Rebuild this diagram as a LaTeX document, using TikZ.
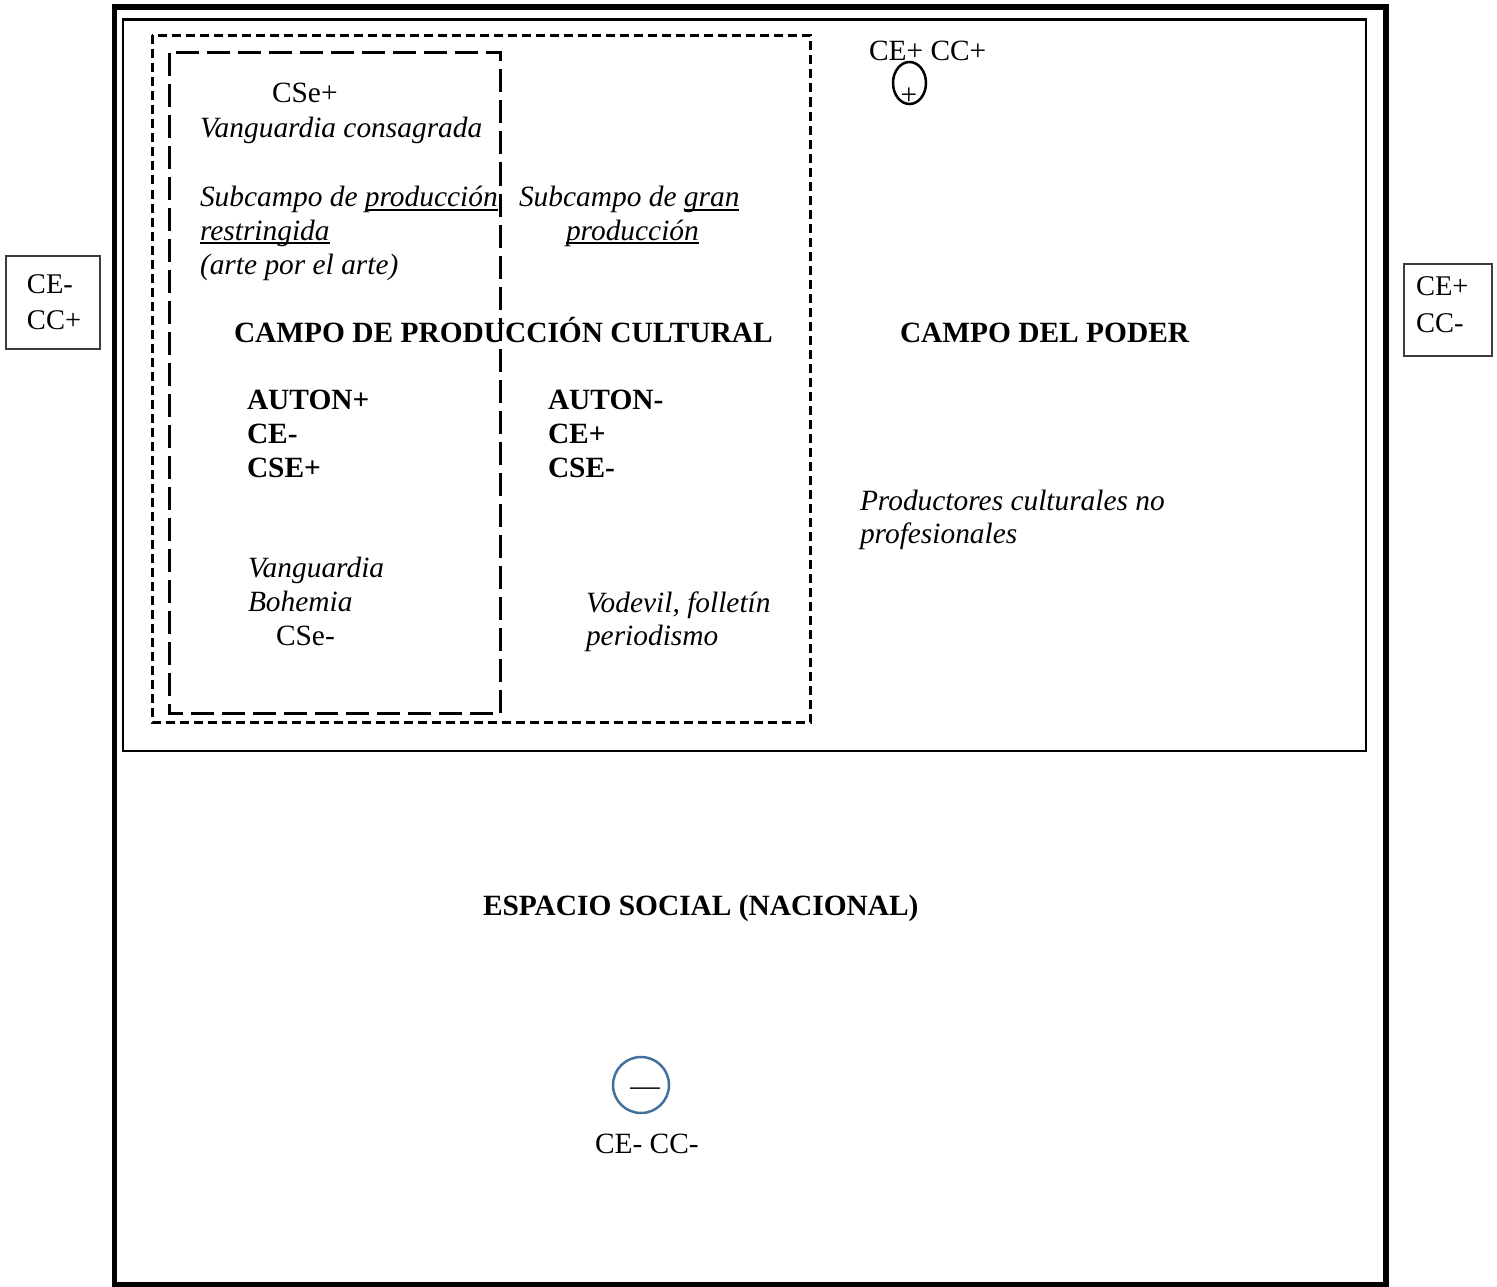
\documentclass[tikz,border=0pt]{standalone}
\usepackage{fontspec}
\setmainfont{Liberation Serif}
\newsavebox\ulbox
\newcommand{\ulw}[1]{\sbox\ulbox{#1}\rlap{\rule[-4pt]{\wd\ulbox}{2pt}}\usebox\ulbox}
\definecolor{shapeblue}{RGB}{65,113,156}
\definecolor{boxgray}{RGB}{60,60,60}
\begin{document}
\begin{tikzpicture}[x=1pt,y=-1pt,
  txt/.style={inner sep=0pt, outer sep=0pt, anchor=base west, font=\fontsize{29.4}{34}\selectfont},
  itx/.style={txt, font=\fontsize{29.4}{34}\selectfont\itshape},
  bfx/.style={txt, font=\fontsize{29.4}{34}\selectfont\bfseries},
  smx/.style={txt, font=\fontsize{28.5}{34}\selectfont},
  outerframe/.style={line width=5.5pt},
  powerbox/.style={line width=2.5pt},
  shortdash/.style={line width=3pt, dash pattern=on 9pt off 5pt},
  longdash/.style={line width=3pt, dash pattern=on 23pt off 8pt},
  sidebox/.style={line width=2pt, draw=boxgray}
]
\useasboundingbox (0,0) rectangle (1497,1287);
% frames
\draw[outerframe] (114.5,7) rectangle (1386,1284.5);
\draw[powerbox] (123,19.5) rectangle (1366,751);
\draw[shortdash] (152,35.5) rectangle (810,722);
\draw[longdash] (169.5,53) rectangle (500,713.5);
% side boxes
\draw[sidebox] (6,256) rectangle (100,349);
\draw[sidebox] (1404,264) rectangle (1492,356);
\node[smx] (lb1) at (27,293) {CE-};
\node[smx] (lb2) at (27,329) {CC+};
\node[smx] (rb1) at (1416,295) {CE+};
\node[smx] (rb2) at (1416,332) {CC-};
% top right marker
\node[txt] (cepcp) at (869,61) {CE+ CC+};
\draw[line width=2.5pt] (909.5,83) ellipse [x radius=16.5, y radius=21];
\node[txt, anchor=base] (plus) at (909,105) {+};
% restricted subfield
\node[txt] (cse1) at (272,103) {CSe+};
\node[itx] (vcons) at (200,138) {Vanguardia consagrada};
\node[itx] (spr1) at (200,207) {Subcampo de \ulw{producción}};
\node[itx] (spr2) at (200,240) {\ulw{restringida}};
\node[itx] (spr3) at (200,274) {(arte por el arte)};
% large subfield
\node[itx] (sgp1) at (519,207) {Subcampo de \ulw{gran}};
\node[itx] (sgp2) at (566,240) {\ulw{producción}};
% titles
\node[bfx] (cpc) at (234,342) {CAMPO DE PRODUCCIÓN CULTURAL};
\node[bfx] (cdp) at (900,342) {CAMPO DEL PODER};
% left stats
\node[bfx] (a1) at (247,409) {AUTON+};
\node[bfx] (a2) at (247,443) {CE-};
\node[bfx] (a3) at (247,477) {CSE+};
% right stats
\node[bfx] (b1) at (548,409) {AUTON-};
\node[bfx] (b2) at (548,443) {CE+};
\node[bfx] (b3) at (548,477) {CSE-};
% productores
\node[itx] (pc1) at (860,510) {Productores culturales no};
\node[itx] (pc2) at (860,543) {profesionales};
% vanguardia
\node[itx] (vb1) at (248,577) {Vanguardia};
\node[itx] (vb2) at (248,611) {Bohemia};
\node[txt] (cse2) at (276,645) {CSe-};
% vodevil
\node[itx] (vf1) at (586,612) {Vodevil, folletín};
\node[itx] (vf2) at (586,645) {periodismo};
% social space
\node[bfx] (esn) at (483,915) {ESPACIO SOCIAL (NACIONAL)};
\draw[line width=2.5pt, shapeblue] (641,1085) circle [radius=28];
\node[txt, anchor=base] (minus) at (645,1095) {—};
\node[txt] (cemcm) at (595,1153) {CE- CC-};
\end{tikzpicture}
\end{document}
